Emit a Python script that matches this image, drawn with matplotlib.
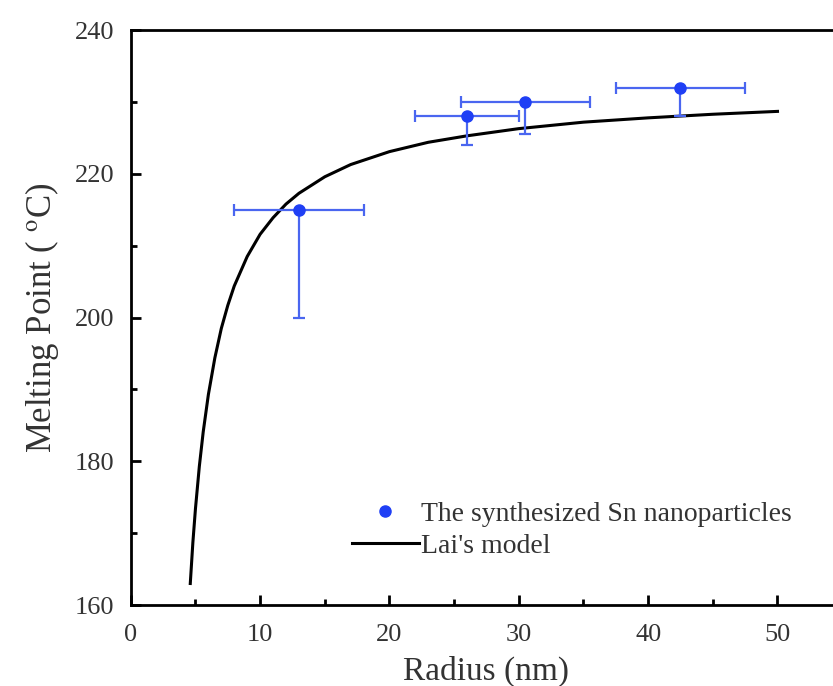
import matplotlib
matplotlib.use("Agg")
import matplotlib.pyplot as plt
from matplotlib.ticker import MultipleLocator

plt.rcParams["font.family"] = ["Liberation Serif", "DejaVu Serif"]
plt.rcParams["mathtext.fontset"] = "stix"

# measured data (radius in nm, melting point in degC)
radius = [13.0, 26.0, 30.5, 42.5]
melt_pt = [215.0, 228.0, 230.0, 232.0]
radius_err = [5.0, 4.0, 5.0, 5.0]
melt_err_low = [15.0, 4.0, 4.5, 4.0]
melt_err_high = [0.0, 0.0, 0.0, 0.0]

# Lai's model curve
model_r = [4.6, 4.8, 5.0, 5.3, 5.6, 6.0, 6.5, 7.0, 7.5, 8.0, 9.0, 10.0, 11.0,
           12.0, 13.0, 15.0, 17.0, 20.0, 23.0, 26.0, 30.0, 35.0, 40.0, 45.0, 50.0]
model_t = [163.0, 168.7, 173.4, 179.3, 184.1, 189.3, 194.4, 198.5, 201.7, 204.4,
           208.5, 211.6, 213.9, 215.8, 217.3, 219.6, 221.3, 223.1, 224.4, 225.3,
           226.3, 227.2, 227.8, 228.3, 228.7]

text_col = "#333333"

fig = plt.figure(figsize=(8.33, 6.86), dpi=100)
ax = fig.add_axes([0.157, 0.118, 0.854, 0.838])

ax.errorbar(radius, melt_pt, xerr=radius_err, yerr=[melt_err_low, melt_err_high],
            fmt="none", ecolor="#4a66f0", elinewidth=1.6,
            capsize=4, capthick=1.6, zorder=3)
ax.plot(radius, melt_pt, "o", color="#1f3ff5", markersize=8, zorder=4,
        label="The synthesized Sn nanoparticles")
ax.plot(model_r, model_t, color="black", linewidth=2.2, zorder=2, label="Lai's model")

ax.set_xlim(0, 55)
ax.set_ylim(160, 240)
ax.xaxis.set_major_locator(MultipleLocator(10))
ax.xaxis.set_minor_locator(MultipleLocator(5))
ax.yaxis.set_major_locator(MultipleLocator(20))
ax.yaxis.set_minor_locator(MultipleLocator(10))
ax.tick_params(which="both", direction="in", top=False, right=False,
               labelsize=19, labelcolor=text_col, width=2)
ax.tick_params(which="major", length=7)
ax.tick_params(which="minor", length=4)
ax.tick_params(axis="x", which="major", pad=14)
ax.tick_params(axis="y", which="major", pad=12)
for s in ["left", "bottom", "top"]:
    ax.spines[s].set_linewidth(2)
ax.spines["right"].set_visible(False)

ax.set_xlabel("Radius (nm)", fontsize=24, color=text_col, labelpad=7)
ax.set_ylabel("Melting Point ( $^{\\rm o}$C)", fontsize=25, color=text_col, labelpad=10)

leg = ax.legend(loc="lower left", bbox_to_anchor=(0.311, 0.08), frameon=False,
                fontsize=20, handlelength=2.4, handletextpad=0.1, labelspacing=0.25,
                borderaxespad=0, borderpad=0)
for t in leg.get_texts():
    t.set_color(text_col)

fig.savefig("out.png", dpi=100, facecolor="white")
